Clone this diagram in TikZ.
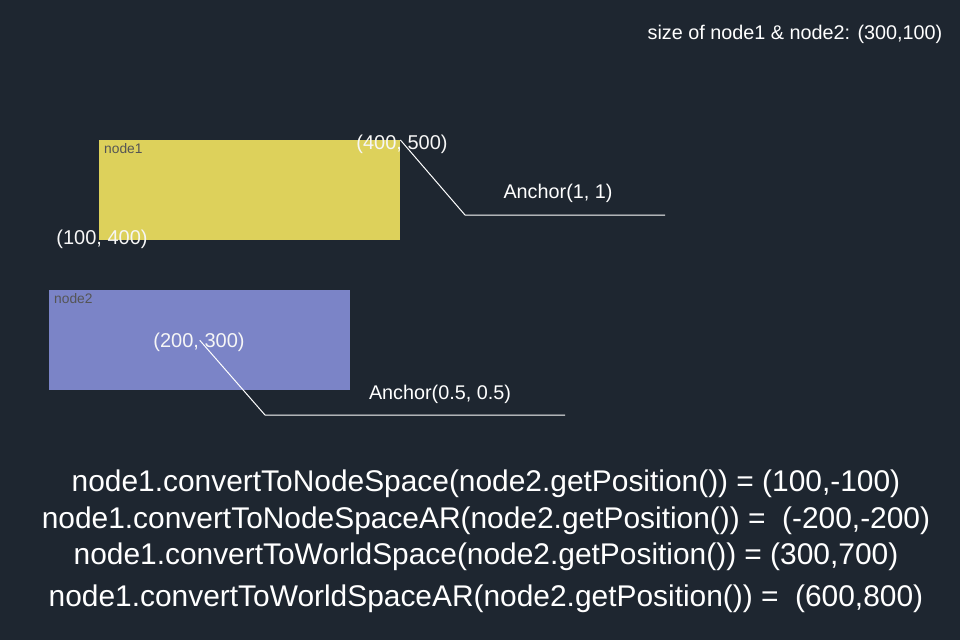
\documentclass[tikz,border=0pt]{standalone}
\usepackage{fontspec}
\setmainfont{Liberation Sans}
\definecolor{bg}{HTML}{1E2630}
\definecolor{ylw}{HTML}{DDD15B}
\definecolor{prp}{HTML}{7B84C7}
\definecolor{lbl}{HTML}{555555}
\begin{document}
\begin{tikzpicture}[x=1pt,y=-1pt,
  box/.style={rectangle, draw=none, anchor=north west, minimum width=301pt, minimum height=100pt, inner sep=0pt},
  tag/.style={text=lbl, font=\fontsize{13.8}{16}\selectfont, anchor=north west, inner sep=0pt},
  coord/.style={text=white!93!gray, font=\fontsize{20}{24}\selectfont, inner sep=0pt},
  note/.style={text=white, font=\fontsize{19.8}{24}\selectfont, inner sep=0pt},
  formula/.style={text=white, font=\fontsize{29.9}{34}\selectfont, inner sep=0pt},
  lead/.style={draw=white, line width=1pt}
]
\fill[bg] (0,0) rectangle (960,640);
\useasboundingbox (0,0) rectangle (960,640);

\node[note] (size) at (795,34) {size of node1 \& node2: (300,100)};

\node[box, fill=ylw] (node1) at (99,140) {};
\node[tag] (t1) at (104,143) {node1};
\node[box, fill=prp] (node2) at (49,290) {};
\node[tag] (t2) at (54,293) {node2};

\coordinate (c1) at (465,215);
\coordinate (e1) at (665,215);
\draw[lead] (node1.north east) -- (c1) -- (e1);
\coordinate (c2) at (265,415);
\coordinate (e2) at (565,415);
\draw[lead] (node2.center) -- (c2) -- (e2);

\node[coord] (p1) at (402,144) {(400, 500)};
\node[coord] (p2) at (102,239) {(100, 400)};
\node[coord] (p3) at (199,342) {(200, 300)};

\node[note] (a1) at (558,193) {Anchor(1, 1)};
\node[note] (a2) at (440,394) {Anchor(0.5, 0.5)};

\node[formula] (f1) at (486,484) {node1.convertToNodeSpace(node2.getPosition()) = (100,-100)};
\node[formula] (f2) at (486,521) {node1.convertToNodeSpaceAR(node2.getPosition()) =\ \ (-200,-200)};
\node[formula] (f3) at (486,557) {node1.convertToWorldSpace(node2.getPosition()) = (300,700)};
\node[formula] (f4) at (486,599) {node1.convertToWorldSpaceAR(node2.getPosition()) =\ \ (600,800)};
\end{tikzpicture}
\end{document}
